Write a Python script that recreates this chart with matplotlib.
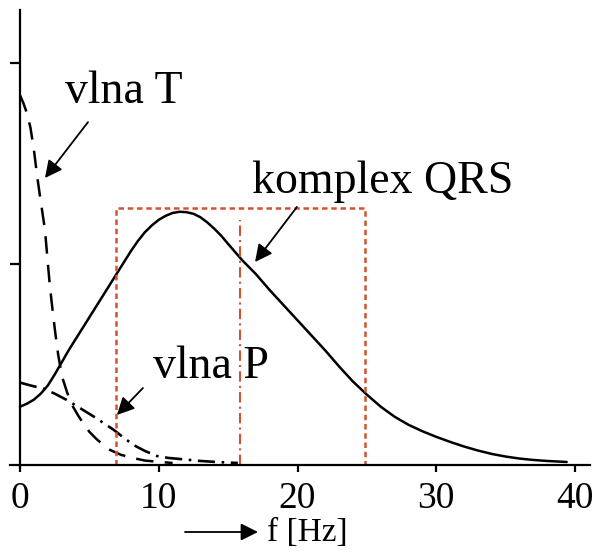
import matplotlib
matplotlib.use("Agg")
import matplotlib.pyplot as plt

plt.rcParams['font.family'] = ['Liberation Serif', 'DejaVu Serif']

# spectrum of the QRS complex
f_qrs = [0, 0.5, 1, 1.5, 2, 2.5, 3, 3.5, 4, 4.5, 5, 5.5, 6, 6.5, 7, 7.5, 8,
         8.5, 9, 9.5, 10, 10.5, 11, 11.5, 12, 12.5, 13, 13.5, 14, 14.5, 15,
         15.5, 16, 16.5, 17, 18, 19, 20, 21, 22, 23, 24, 25, 26, 27, 28, 29,
         30, 31, 32, 33, 34, 35, 36, 37, 38, 39.4]
a_qrs = [0.29, 0.305, 0.325, 0.355, 0.395, 0.45, 0.51, 0.57, 0.625, 0.68,
         0.735, 0.79, 0.845, 0.90, 0.955, 1.01, 1.065, 1.115, 1.158, 1.192,
         1.22, 1.24, 1.254, 1.26, 1.258, 1.25, 1.233, 1.207, 1.176, 1.141,
         1.10, 1.06, 1.02, 0.985, 0.95, 0.87, 0.795, 0.72, 0.645, 0.57, 0.49,
         0.415, 0.35, 0.29, 0.24, 0.20, 0.168, 0.14, 0.115, 0.092, 0.072,
         0.055, 0.042, 0.032, 0.025, 0.02, 0.015]

# T wave
f_t = [0, 0.25, 0.5, 0.75, 1.0, 1.25, 1.5, 1.8, 2.0, 2.16, 2.35, 2.52, 2.75,
       3.03, 3.4, 3.82, 4.2, 4.54, 5, 5.5, 6, 6.49, 7.3, 8.14, 9, 10.1, 11]
a_t = [1.84, 1.80, 1.75, 1.68, 1.57, 1.43, 1.31, 1.17, 1.01, 0.886, 0.77,
       0.67, 0.55, 0.44, 0.36, 0.29, 0.245, 0.21, 0.165, 0.13, 0.10, 0.075,
       0.05, 0.035, 0.022, 0.015, 0.01]

# P wave
f_p = [0, 0.8, 1.68, 2.5, 3.36, 4.4, 5.5, 6.1, 6.73, 7.4, 8.17, 9, 9.85,
       10.7, 11.5, 13, 14.4, 15.7]
a_p = [0.41, 0.395, 0.38, 0.355, 0.324, 0.28, 0.233, 0.205, 0.176, 0.14,
       0.10, 0.07, 0.045, 0.035, 0.03, 0.02, 0.014, 0.01]

# band markers
band_lo, band_mid, band_hi = 6.92, 15.85, 24.9
band_top, mid_top = 1.28, 1.22

xticks = [0, 10, 20, 30, 40]
yticks = [1, 2]

red = '#d25232'

fig = plt.figure(figsize=(6, 5.55), dpi=100)
ax = fig.add_axes([10 / 600, 1 - 467 / 555, 580 / 600, 457 / 555])
ax.set_xlim(-0.72, 41.08)
ax.set_ylim(-0.01, 2.264)

for s in ['top', 'right']:
    ax.spines[s].set_visible(False)
ax.spines['left'].set_position(('data', 0))
ax.spines['bottom'].set_position(('data', 0))
for s in ['left', 'bottom']:
    ax.spines[s].set_linewidth(1.6)

ax.set_xticks(xticks)
ax.set_xticklabels([str(t) for t in xticks], fontsize=27)
ax.set_yticks(yticks)
ax.set_yticklabels([])
ax.tick_params(axis='x', direction='out', length=5, width=1.6, pad=7)
ax.tick_params(axis='y', direction='out', length=7, width=1.6)

ax.plot(f_qrs, a_qrs, color='black', lw=1.8, solid_capstyle='round',
        solid_joinstyle='round')
ax.plot(f_t, a_t, color='black', lw=1.8, linestyle=(0, (7, 4.5)))
ax.plot(f_p, a_p, color='black', lw=1.9, linestyle=(0, (6.5, 2.5, 1, 2.5)))

# band rectangle and centre line
ax.plot([band_lo, band_lo, band_hi, band_hi], [0, band_top, band_top, 0],
        color=red, lw=1.8, linestyle=(0, (2.2, 1.5)))
ax.plot([band_mid, band_mid], [0, mid_top], color=red, lw=1.5,
        linestyle=(0, (5, 2, 1, 2)))

arrow = dict(arrowstyle='-|>', color='black', lw=1.3, mutation_scale=26,
             shrinkA=0, shrinkB=0)
ax.annotate('', xy=(1.8, 1.428), xytext=(4.9, 1.706), arrowprops=arrow)
ax.annotate('', xy=(16.94, 1.01), xytext=(19.96, 1.284), arrowprops=arrow)
ax.annotate('', xy=(6.99, 0.249), xytext=(8.86, 0.383), arrowprops=arrow)

ax.text(3.24, 1.80, 'vlna T', fontsize=33, va='baseline', ha='left')
ax.text(16.72, 1.353, 'komplex QRS', fontsize=33, va='baseline', ha='left')
ax.text(9.59, 0.433, 'vlna P', fontsize=33, va='baseline', ha='left')

ax.annotate('', xy=(258, 23), xytext=(185, 23), xycoords='figure pixels',
            textcoords='figure pixels', arrowprops=arrow)
fig.text(267, 14, 'f [Hz]', transform=None, fontsize=24, va='baseline', ha='left')

fig.savefig('out.png', dpi=100)
